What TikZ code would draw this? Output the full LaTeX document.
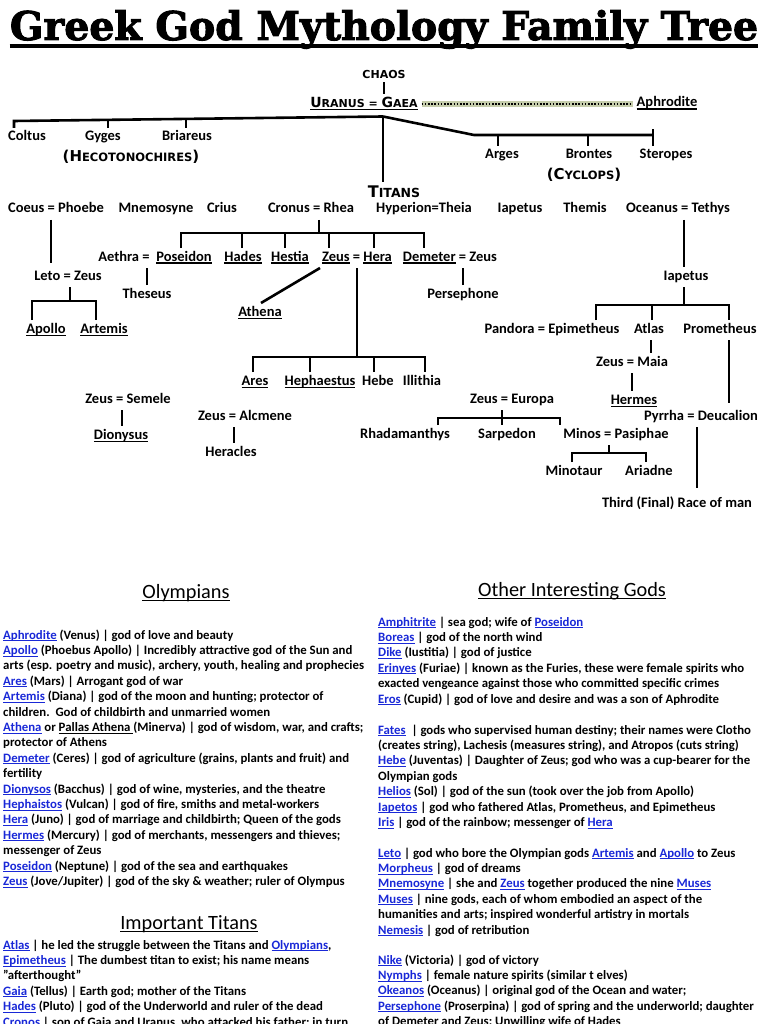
\documentclass[tikz,border=0pt]{standalone}
\usepackage{fontspec}
\setmainfont{Carlito}
\newfontfamily\capsfont{DejaVu Sans}
\newfontfamily\titlefont{DejaVu Serif}[BoldFeatures={FakeBold=2.5}]
\usetikzlibrary{calc}

\definecolor{linkblue}{RGB}{25,40,215}
\definecolor{dotglow}{RGB}{198,205,172}

% underlines: body text, tree names, headings
\newcommand{\undl}[1]{\leavevmode\setbox0\hbox{#1}\rlap{\rule[-1.8pt]{\wd0}{0.75pt}}\box0\relax}
\newcommand{\gul}[1]{\leavevmode\setbox0\hbox{#1}\rlap{\rule[-2.6pt]{\wd0}{1.1pt}}\box0\relax}
\newcommand{\hul}[1]{\leavevmode\setbox0\hbox{#1}\rlap{\rule[-3.4pt]{\wd0}{1.2pt}}\box0\relax}
\newcommand{\link}[1]{\textcolor{linkblue}{\undl{#1}}}
\newcommand{\capup}[2]{{\fontsize{#1}{#1}\selectfont #2}}

\tikzset{
  god/.style={font=\bfseries\fontsize{14.5}{16}\selectfont, inner sep=1pt, outer sep=3pt, text height=9pt, text depth=3pt},
  caps/.style={font=\capsfont\bfseries\fontsize{11.5}{13}\selectfont, inner sep=1pt, outer sep=3pt},
  bar/.style={line width=2.6pt},
  block/.style={font=\bfseries\fontsize{12.8}{15.4}\selectfont, align=left, anchor=north west, inner sep=0pt},
  heading/.style={font=\fontsize{20.3}{22}\selectfont, inner sep=0pt, anchor=base}
}

\begin{document}
\begin{tikzpicture}[x=1pt,y=-1pt]
\useasboundingbox (0,0) rectangle (768,1024);

% title
\node[anchor=base, inner sep=0pt] (title) at (384,40) {\resizebox{748pt}{30pt}{\titlefont\bfseries Greek God Mythology Family Tree}};
\draw[line width=4pt] ([yshift=-6pt]title.base west) -- ([yshift=-6pt]title.base east);

% first generations
\node[caps, font=\capsfont\bfseries\fontsize{11}{12}\selectfont] (chaos) at (384,74) {CHAOS};
\node[caps, font=\capsfont\bfseries\fontsize{11}{12}\selectfont] (uranus) at (364,104) {\gul{\capup{14}{U}RANUS = \capup{14}{G}AEA}};
\node[god] (aphro) at (667,104) {\gul{Aphrodite}};
\node[god] (coltus) at (27,138) {Coltus};
\node[god] (gyges) at (103,138) {Gyges};
\node[god] (briareus) at (187,138) {Briareus};
\node[caps] (hecat) at (131,157) {\capup{15}{(H}ECOTONOCHIRES\capup{15}{)}};
\node[god] (arges) at (502,156) {Arges};
\node[god] (brontes) at (589,156) {Brontes};
\node[god] (steropes) at (666,156) {Steropes};
\node[caps] (cyclops) at (584,175) {\capup{15}{(C}YCLOPS\capup{15}{)}};
\node[caps, font=\capsfont\bfseries\fontsize{12.5}{14}\selectfont] (titans) at (394,192) {\capup{16}{T}ITANS};

% titans
\node[god] (coeus) at (56,210) {Coeus = Phoebe};
\node[god] (mnemo) at (156,210) {Mnemosyne};
\node[god] (crius) at (222,210) {Crius};
\node[god] (cronus) at (311,210) {Cronus = Rhea};
\node[god] (hyperion) at (424,210) {Hyperion=Theia};
\node[god] (iapetusa) at (520,210) {Iapetus};
\node[god] (themis) at (585,210) {Themis};
\node[god] (oceanus) at (678,210) {Oceanus = Tethys};

% children of the titans
\node[god] (leto) at (68,277) {Leto = Zeus};
\node[god] (apollo) at (46,330) {\gul{Apollo}};
\node[god] (artemis) at (104,330) {\gul{Artemis}};
\node[god] (aethra) at (124,258) {Aethra =};
\node[god] (poseidon) at (184,258) {\gul{Poseidon}};
\node[god] (hades) at (243,258) {\gul{Hades}};
\node[god] (hestia) at (290,258) {\gul{Hestia}};
\node[god] (zh) at (357,258) {\gul{Zeus} = \gul{Hera}};
\node[god] (demeter) at (450,258) {\gul{Demeter} = Zeus};
\node[god] (theseus) at (147,295) {Theseus};
\node[god] (athena) at (260,313) {\gul{Athena}};
\node[god] (persephone) at (463,295) {Persephone};
\node[god] (iapetusb) at (686,277) {Iapetus};
\node[god] (pandora) at (552,330) {Pandora = Epimetheus};
\node[god] (atlas) at (649,330) {Atlas};
\node[god] (prometheus) at (720,330) {Prometheus};
\node[god] (maia) at (632,363) {Zeus = Maia};
\node[god] (hermes) at (634,401) {\gul{Hermes}};
\node[god] (pyrrha) at (701,417) {Pyrrha = Deucalion};
\node[god] (third) at (677,504) {Third (Final) Race of man};
\node[god] (ares) at (255,382) {\gul{Ares}};
\node[god] (heph) at (320,382) {\gul{Hephaestus}};
\node[god] (hebe) at (378,382) {Hebe};
\node[god] (illithia) at (422,382) {Illithia};
\node[god] (semele) at (128,400) {Zeus = Semele};
\node[god] (dionysus) at (121,436) {\gul{Dionysus}};
\node[god] (alcmene) at (245,417) {Zeus = Alcmene};
\node[god] (heracles) at (231,453) {Heracles};
\node[god] (europa) at (512,400) {Zeus = Europa};
\node[god] (rhad) at (405,435) {Rhadamanthys};
\node[god] (sarpedon) at (507,435) {Sarpedon};
\node[god] (minos) at (616,435) {Minos = Pasiphae};
\node[god] (minotaur) at (574,472) {Minotaur};
\node[god] (ariadne) at (649,472) {Ariadne};

% Chaos and Uranus = Gaea
\draw[bar] (chaos.south) -- (chaos.south |- uranus.north);
\draw[dotglow, line width=6pt] (uranus.east) -- (aphro.west);
\draw[line width=2pt, dash pattern=on 1.6pt off 1.6pt] (uranus.east) -- (aphro.west);
\coordinate (ug) at ([xshift=19pt,yshift=-2pt]uranus.south);
\coordinate (lb) at (14,121);
\coordinate (rb) at (474,135);
\coordinate (re) at (653,135);
\draw[bar] (ug) -- (lb) -- (lb |- coltus.north);
\draw[bar] ([xshift=5pt]gyges.north) -- ++(0,-9);
\draw[bar] ([xshift=-1pt]briareus.north) -- ++(0,-9);
\draw[bar] (ug) -- (rb) -- (re);
\draw[bar] ([xshift=-4pt]arges.north) -- ++(0,-11);
\draw[bar] ([xshift=-1pt]brontes.north) -- ++(0,-11);
\draw[bar] ([xshift=-13pt]steropes.north) -- ++(0,-17);
\draw[bar] (ug) -- (ug |- titans.north);

% Coeus = Phoebe and Leto = Zeus
\draw[bar, shorten >=4pt] ([xshift=-5pt]coeus.south) -- ([xshift=-5pt]coeus.south |- leto.north);
\coordinate (letobar) at ([xshift=2pt,yshift=-14pt]leto.south);
\draw[bar] ([xshift=2pt]leto.south) -- (letobar);
\draw[bar] ([xshift=-14pt]apollo.north) |- (letobar) -| ([xshift=-8pt]artemis.north);

% Cronus = Rhea
\coordinate (crbar) at ([xshift=8pt,yshift=-13pt]cronus.south);
\draw[bar] ([xshift=8pt]cronus.south) -- (crbar);
\draw[bar] ([xshift=-3pt]poseidon.north) |- (crbar) -| ([xshift=-26pt]demeter.north);
\foreach \n/\s in {hades/-1,hestia/-5,zh/-28,zh/17}
  \draw[bar] ([xshift=\s pt]\n.north) -- ([xshift=\s pt]\n.north |- crbar);
\draw[bar] (theseus.north) -- (theseus.north |- aethra.south);
\draw[bar] ([xshift=-37pt]zh.south) -- ([xshift=1pt]athena.north);
\draw[bar] (persephone.north) -- (persephone.north |- demeter.south);

% Zeus = Hera
\coordinate (zhbar) at ([yshift=-89pt]zh.south);
\draw[bar] (zh.south) -- (zhbar);
\draw[bar] ([xshift=-2pt]ares.north) |- (zhbar) -| ([xshift=3pt]illithia.north);
\foreach \n/\s in {heph/-10,hebe/-4}
  \draw[bar] ([xshift=\s pt]\n.north) -- ([xshift=\s pt]\n.north |- zhbar);

% Oceanus = Tethys and Iapetus
\draw[bar] ([xshift=6pt]oceanus.south) -- ([xshift=6pt]oceanus.south |- iapetusb.north);
\coordinate (iabar) at ([xshift=-2pt,yshift=-18pt]iapetusb.south);
\draw[bar] ([xshift=-2pt]iapetusb.south) -- (iabar);
\draw[bar] ([xshift=44pt]pandora.north) |- (iabar) -| ([xshift=9pt]prometheus.north);
\draw[bar] ([xshift=3pt]atlas.north) -- ([xshift=3pt]atlas.north |- iabar);
\draw[bar] ([xshift=2pt]atlas.south) -- ([xshift=2pt]atlas.south |- maia.north);
\draw[bar] (maia.south) -- (maia.south |- hermes.north);
\draw[bar, shorten >=4pt] ([xshift=9pt]prometheus.south) -- ([xshift=9pt]prometheus.south |- pyrrha.north);
\draw[bar, shorten >=6pt] ([xshift=-4pt]pyrrha.south) -- ([xshift=-4pt]pyrrha.south |- third.north);

% other children of Zeus
\draw[bar] ([xshift=-6pt]semele.south) -- ([xshift=-6pt]semele.south |- dionysus.north);
\draw[bar] ([xshift=-11pt]alcmene.south) -- ([xshift=-11pt]alcmene.south |- heracles.north);
\coordinate (eubar) at ([xshift=-10pt,yshift=-8pt]europa.south);
\draw[bar] ([xshift=-10pt]europa.south) -- ([xshift=-10pt]europa.south |- sarpedon.north);
\draw[bar] ([xshift=33pt]rhad.north) |- (eubar) -| ([xshift=-56pt]minos.north);
\coordinate (mibar) at ([xshift=-7pt,yshift=-8pt]minos.south);
\draw[bar] ([xshift=-7pt]minos.south) -- (mibar);
\draw[bar] ([xshift=-2pt]minotaur.north) |- (mibar) -| ([xshift=-3pt]ariadne.north);

% lists
\node[heading] (olymphead) at (186,598) {\hul{Olympians}};
\node[heading] (otherhead) at (572,596) {\hul{Other Interesting Gods}};
\node[heading] (titanhead) at (189,929) {\hul{Important Titans}};

\node[block] (olymplist) at (3,628.2) {\strut\link{Aphrodite} (Venus) | god of love and beauty\\
\link{Apollo} (Phoebus Apollo) | Incredibly attractive god of the Sun and\\
arts (esp. poetry and music), archery, youth, healing and prophecies\\
\link{Ares} (Mars) | Arrogant god of war\\
\link{Artemis} (Diana) | god of the moon and hunting; protector of\\
children.\ \ God of childbirth and unmarried women\\
\link{Athena} or \undl{Pallas Athena }(Minerva) | god of wisdom, war, and crafts;\\
protector of Athens\\
\link{Demeter} (Ceres) | god of agriculture (grains, plants and fruit) and\\
fertility\\
\link{Dionysos} (Bacchus) | god of wine, mysteries, and the theatre\\
\link{Hephaistos} (Vulcan) | god of fire, smiths and metal-workers\\
\link{Hera} (Juno) | god of marriage and childbirth; Queen of the gods\\
\link{Hermes} (Mercury) | god of merchants, messengers and thieves;\\
messenger of Zeus\\
\link{Poseidon} (Neptune) | god of the sea and earthquakes\\
\link{Zeus} (Jove/Jupiter) | god of the sky \& weather; ruler of Olympus};

\node[block] (titanlist) at (3,938.2) {\strut\link{Atlas} | he led the struggle between the Titans and \link{Olympians},\\
\link{Epimetheus} | The dumbest titan to exist; his name means\\
"afterthought"\\
\link{Gaia} (Tellus) | Earth god; mother of the Titans\\
\link{Hades} (Pluto) | god of the Underworld and ruler of the dead\\
\link{Cronos} | son of Gaia and Uranus, who attacked his father; in turn,};

\node[block] (othera) at (378,615.2) {\strut\link{Amphitrite} | sea god; wife of \link{Poseidon}\\
\link{Boreas} | god of the north wind\\
\link{Dike} (Iustitia) | god of justice\\
\link{Erinyes} (Furiae) | known as the Furies, these were female spirits who\\
exacted vengeance against those who committed specific crimes\\
\link{Eros} (Cupid) | god of love and desire and was a son of Aphrodite};

\node[block] (otherb) at (378,723.2) {\strut\link{Fates}\ \ | gods who supervised human destiny; their names were Clotho\\
(creates string), Lachesis (measures string), and Atropos (cuts string)\\
\link{Hebe} (Juventas) | Daughter of Zeus; god who was a cup-bearer for the\\
Olympian gods\\
\link{Helios} (Sol) | god of the sun (took over the job from Apollo)\\
\link{Iapetos} | god who fathered Atlas, Prometheus, and Epimetheus\\
\link{Iris} | god of the rainbow; messenger of \link{Hera}};

\node[block] (otherc) at (378,846.2) {\strut\link{Leto} | god who bore the Olympian gods \link{Artemis} and \link{Apollo} to Zeus\\
\link{Morpheus} | god of dreams\\
\link{Mnemosyne} | she and \link{Zeus} together produced the nine \link{Muses}\\
\link{Muses} | nine gods, each of whom embodied an aspect of the\\
humanities and arts; inspired wonderful artistry in mortals\\
\link{Nemesis} | god of retribution};

\node[block] (otherd) at (378,953.2) {\strut\link{Nike} (Victoria) | god of victory\\
\link{Nymphs} | female nature spirits (similar t elves)\\
\link{Okeanos} (Oceanus) | original god of the Ocean and water;\\
\link{Persephone} (Proserpina) | god of spring and the underworld; daughter\\
of Demeter and Zeus; Unwilling wife of Hades};
\end{tikzpicture}
\end{document}
